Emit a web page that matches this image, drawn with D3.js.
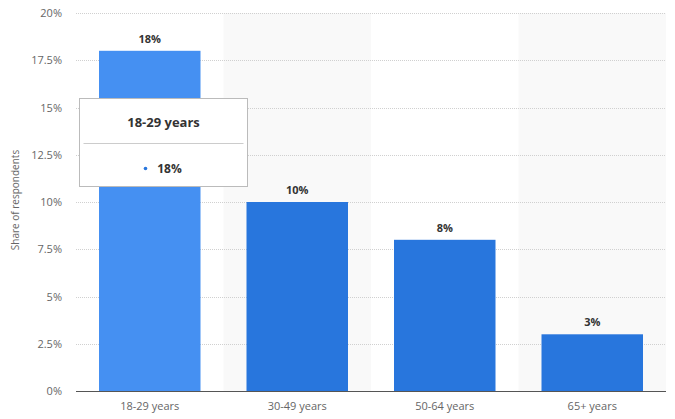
<!DOCTYPE html>
<html><head><meta charset="utf-8">
<script src="https://cdn.jsdelivr.net/npm/d3@7"></script>
<style>
html,body{margin:0;padding:0;background:#fff;}
svg{display:block;font-family:"Open Sans","DejaVu Sans",sans-serif;}
</style></head>
<body>
<svg id="chart" width="675" height="419"></svg>
<script>
const categories = ["18-29 years","30-49 years","50-64 years","65+ years"];
const values = [18, 10, 8, 3];
const valueLabels = ["18%","10%","8%","3%"];
const yTicks = [0, 2.5, 5, 7.5, 10, 12.5, 15, 17.5, 20];
const yTickLabels = ["0%","2.5%","5%","7.5%","10%","12.5%","15%","17.5%","20%"];
const tooltipTitle = "18-29 years";
const tooltipValue = "18%";

(function(){
const svg = d3.select("#chart");
const pl = 76, pr = 666, pt = 13, pb = 391;
const x = d3.scaleBand().domain(categories).range([pl, pr]).paddingInner(0).paddingOuter(0);
const y = d3.scaleLinear().domain([0, 20]).range([pb, pt]);

svg.selectAll("rect.band").data(categories.filter((d,i)=>i%2===1)).enter()
  .append("rect").attr("x", d=>x(d)).attr("y", pt).attr("width", x.bandwidth()).attr("height", pb-pt)
  .attr("fill", "#f9f9f9");

svg.selectAll("line.grid").data(yTicks.filter(t=>t>0)).enter()
  .append("line").attr("x1", pl).attr("x2", pr).attr("y1", d=>Math.round(y(d))+0.5).attr("y2", d=>Math.round(y(d))+0.5)
  .attr("stroke", "#d0d0d0").attr("stroke-width", 1).attr("stroke-dasharray", "1,1");

svg.selectAll("text.ytick").data(yTicks).enter()
  .append("text").attr("x", 62).attr("y", d=>y(d)+4).attr("text-anchor","end")
  .attr("font-size", 11).attr("fill", "#666").text((d,i)=>yTickLabels[i]);

svg.append("text").attr("transform", "translate(19,200) rotate(-90)").attr("text-anchor","middle")
  .attr("font-size", 10).attr("fill", "#666").text("Share of respondents");

const pad = 23;
svg.selectAll("rect.bar").data(values).enter()
  .append("rect").attr("x", (d,i)=>x(categories[i])+pad).attr("width", x.bandwidth()-2*pad)
  .attr("y", d=>y(d)).attr("height", d=>pb - y(d))
  .attr("fill", (d,i)=> i===0 ? "#4590f2" : "#2876dd");

svg.selectAll("text.val").data(values).enter()
  .append("text").attr("x", (d,i)=>x(categories[i])+x.bandwidth()/2).attr("y", d=>y(d)-8)
  .attr("text-anchor","middle").attr("font-size", 11).attr("font-weight","bold").attr("fill","#333")
  .text((d,i)=>valueLabels[i]);

svg.append("line").attr("x1", pl).attr("x2", pr).attr("y1", pb+0.5).attr("y2", pb+0.5)
  .attr("stroke", "#555").attr("stroke-width", 1);

svg.selectAll("text.xl").data(categories).enter()
  .append("text").attr("x", d=>x(d)+x.bandwidth()/2).attr("y", 410).attr("text-anchor","middle")
  .attr("font-size", 11).attr("fill", "#666").text(d=>d);

const tx = 79.5, ty = 98.5, tw = 168, th = 88;
const tt = svg.append("g");
tt.append("rect").attr("x", tx).attr("y", ty).attr("width", tw).attr("height", th)
  .attr("fill", "#fff").attr("stroke", "#bbb").attr("stroke-width", 1);
tt.append("text").attr("x", tx+tw/2).attr("y", ty+28).attr("text-anchor","middle")
  .attr("font-size", 13).attr("font-weight","bold").attr("fill","#333").text(tooltipTitle);
tt.append("line").attr("x1", tx+4).attr("x2", tx+tw-4).attr("y1", ty+45).attr("y2", ty+45)
  .attr("stroke", "#ccc");
tt.append("circle").attr("cx", tx+tw/2-18).attr("cy", ty+70).attr("r", 1.8).attr("fill", "#2876dd");
tt.append("text").attr("x", tx+tw/2+6).attr("y", ty+74).attr("text-anchor","middle")
  .attr("font-size", 12).attr("font-weight","bold").attr("fill","#333").text(tooltipValue);
})();
</script>
</body></html>
